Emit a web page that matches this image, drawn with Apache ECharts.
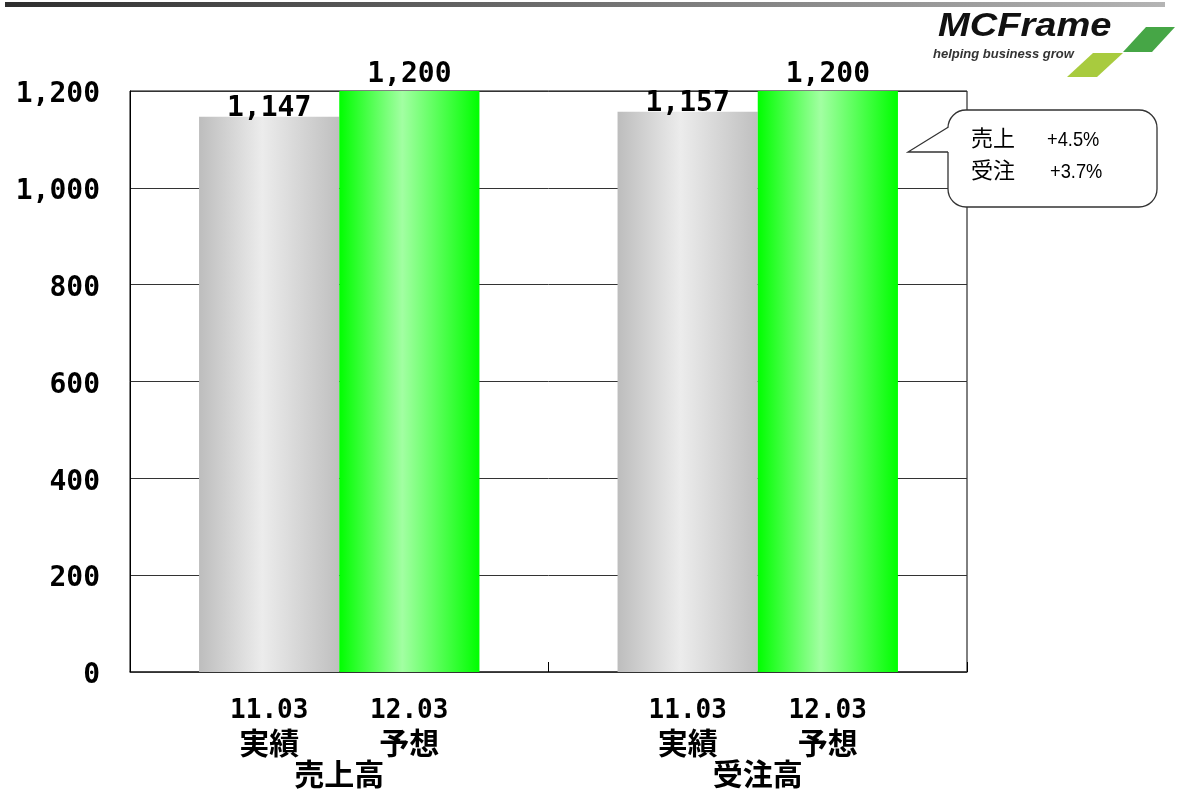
<!DOCTYPE html>
<html>
<head>
<meta charset="utf-8">
<script src="https://cdn.jsdelivr.net/npm/echarts@6/dist/echarts.min.js"></script>
<style>
html,body{margin:0;padding:0;background:#fff;}
#chart{width:1178px;height:798px;}
</style>
</head>
<body>
<div id="chart"></div>
<script>
// ---- data ----
const groups = ['売上高', '受注高'];
const periodLabels = ['11.03', '12.03'];
const kindLabels = ['実績', '予想'];
const actual1103 = [1147, 1157];
const forecast1203 = [1200, 1200];
const yTicks = { min: 0, max: 1200, interval: 200 };
const calloutLines = [['売上', '+4.5%'], ['受注', '+3.7%']];
const logoText = 'MCFrame';
const logoTagline = 'helping business grow';

const MONO = "'DejaVu Sans Mono', 'Noto Sans CJK JP', sans-serif";
const CJK = "'Noto Sans CJK JP', sans-serif";

const chart = echarts.init(document.getElementById('chart'), null, { renderer: 'canvas' });

const grayGrad = new echarts.graphic.LinearGradient(0, 0, 1, 0, [
  { offset: 0, color: '#bdbdbd' },
  { offset: 0.45, color: '#ececec' },
  { offset: 1, color: '#bfbfbf' }
]);
const greenGrad = new echarts.graphic.LinearGradient(0, 0, 1, 0, [
  { offset: 0, color: '#00ff00' },
  { offset: 0.45, color: '#a2ffa2' },
  { offset: 1, color: '#00ff00' }
]);

const option = {
  backgroundColor: '#ffffff',
  animation: false,
  grid: {
    left: 130, right: 211, top: 91, bottom: 126,
    show: true, borderColor: '#000', borderWidth: 1, backgroundColor: 'transparent'
  },
  xAxis: {
    type: 'category',
    data: groups,
    axisLine: { lineStyle: { color: '#333', width: 1.5 } },
    axisTick: { show: true, inside: true, length: 10, lineStyle: { color: '#000' } },
    axisLabel: {
      margin: 24,
      interval: 0,
      formatter: function (v) {
        return '{a|' + periodLabels[0] + '}{a|' + periodLabels[1] + '}\n' +
               '{b|' + kindLabels[0] + '}{b|' + kindLabels[1] + '}\n' +
               '{c|' + v + '}';
      },
      rich: {
        a: { width: 140, align: 'center', fontFamily: MONO, fontWeight: 'bold', fontSize: 26, lineHeight: 31, color: '#000' },
        b: { width: 140, align: 'center', fontFamily: CJK, fontWeight: 'bold', fontSize: 30, lineHeight: 31, color: '#000' },
        c: { align: 'center', fontFamily: CJK, fontWeight: 'bold', fontSize: 30, lineHeight: 31, color: '#000' }
      }
    }
  },
  yAxis: {
    type: 'value',
    min: yTicks.min, max: yTicks.max, interval: yTicks.interval,
    axisLine: { show: true, lineStyle: { color: '#000', width: 1 } },
    axisTick: { show: false },
    splitLine: { lineStyle: { color: '#333', width: 1 } },
    axisLabel: {
      margin: 30,
      formatter: v => '{v|' + v.toLocaleString('en-US') + '}',
      rich: {
        v: { fontFamily: MONO, fontWeight: 'bold', fontSize: 28, color: '#000', padding: [8, 0, 0, 0] }
      }
    }
  },
  series: [
    {
      name: '11.03 実績', type: 'bar', data: actual1103,
      barGap: '0%', barCategoryGap: '33%',
      itemStyle: { color: grayGrad },
      label: {
        show: true, position: 'top', distance: -6,
        fontFamily: MONO, fontWeight: 'bold', fontSize: 28, color: '#000',
        formatter: p => p.value.toLocaleString('en-US')
      },
      z: 3
    },
    {
      name: '12.03 予想', type: 'bar', data: forecast1203,
      barGap: '0%', barCategoryGap: '33%',
      itemStyle: { color: greenGrad },
      label: {
        show: true, position: 'top', distance: 2,
        fontFamily: MONO, fontWeight: 'bold', fontSize: 28, color: '#000',
        formatter: p => p.value.toLocaleString('en-US')
      },
      z: 3
    }
  ],
  graphic: [
    // top gradient rule
    {
      type: 'rect', shape: { x: 5, y: 2, width: 1160, height: 5 },
      style: { fill: new echarts.graphic.LinearGradient(0, 0, 1, 0, [
        { offset: 0, color: '#2e2e2e' }, { offset: 1, color: '#b4b4b4' }
      ]) }, silent: true
    },
    // logo text
    {
      type: 'text', x: 938, y: 10, scaleX: 1.12, scaleY: 1,
      style: { text: logoText, fontFamily: "'Liberation Sans', Arial, sans-serif", fontWeight: 'bold', fontStyle: 'italic', fontSize: 34, fill: '#111' }
    },
    {
      type: 'text', x: 933, y: 48,
      style: { text: logoTagline, fontFamily: "'Liberation Sans', Arial, sans-serif", fontWeight: 'bold', fontStyle: 'italic', fontSize: 13, fill: '#333' }
    },
    {
      type: 'polygon', shape: { points: [[1146, 27], [1175, 27], [1152, 52], [1123, 52]] },
      style: { fill: '#46a646' }
    },
    {
      type: 'polygon', shape: { points: [[1093, 53], [1123, 53], [1097, 77], [1067, 77]] },
      style: { fill: '#a8cb3e' }
    },
    // callout bubble
    {
      type: 'rect', shape: { x: 948, y: 110, width: 209, height: 97, r: 18 },
      style: { fill: '#ffffff', stroke: '#333', lineWidth: 1.3 },
      z: 10
    },
    {
      type: 'polygon', shape: { points: [[908, 152], [950, 126], [950, 152]] },
      style: { fill: '#ffffff' },
      z: 11
    },
    {
      type: 'polyline', shape: { points: [[948.5, 127], [908, 152], [948, 152]] },
      style: { stroke: '#333', lineWidth: 1.3, fill: null },
      z: 12
    },
    {
      type: 'text', x: 971, y: 138, z: 13,
      style: { text: calloutLines[0][0], fontFamily: CJK, fontSize: 22, fill: '#000', verticalAlign: 'middle' }
    },
    {
      type: 'text', x: 1047, y: 140, z: 13, scaleX: 0.87,
      style: { text: calloutLines[0][1], fontFamily: "'Liberation Sans', sans-serif", fontSize: 21, fill: '#000', verticalAlign: 'middle' }
    },
    {
      type: 'text', x: 971, y: 170, z: 13,
      style: { text: calloutLines[1][0], fontFamily: CJK, fontSize: 22, fill: '#000', verticalAlign: 'middle' }
    },
    {
      type: 'text', x: 1050, y: 172, z: 13, scaleX: 0.87,
      style: { text: calloutLines[1][1], fontFamily: "'Liberation Sans', sans-serif", fontSize: 21, fill: '#000', verticalAlign: 'middle' }
    }
  ]
};
chart.setOption(option);
</script>
</body>
</html>
